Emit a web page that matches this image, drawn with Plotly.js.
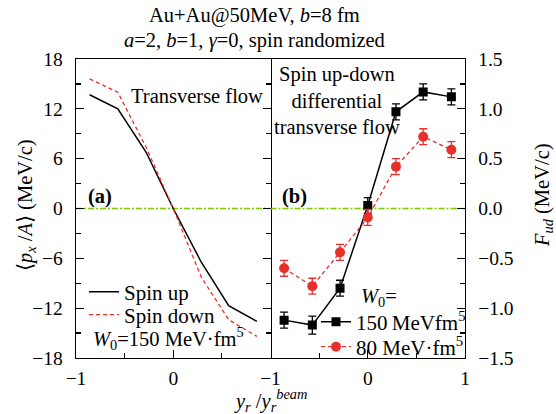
<!DOCTYPE html>
<html>
<head>
<meta charset="utf-8">
<script src="https://cdn.plot.ly/plotly-3.0.1.min.js"></script>
<style>html,body{margin:0;padding:0;background:#fff;}#chart{width:556px;height:414px;}</style>
</head>
<body>
<div id="chart"></div>
<script>
// Panel (a): transverse flow
const rapA = [-0.86, -0.57, -0.28, 0.0, 0.29, 0.57, 0.86];
const spinUp = [13.7, 12.0, 6.8, 0.0, -6.5, -11.7, -13.6];
const spinDown = [15.6, 14.0, 7.4, 0.0, -8.3, -13.4, -15.4];

// Panel (b): spin up-down differential transverse flow
const rapB = [-0.86, -0.57, -0.285, 0.0, 0.29, 0.57, 0.86];
const fud150 = [-1.12, -1.17, -0.80, 0.03, 0.97, 1.17, 1.12];
const err150 = [0.08, 0.09, 0.08, 0.08, 0.08, 0.08, 0.08];
const fud80 = [-0.60, -0.78, -0.44, -0.09, 0.42, 0.72, 0.59];
const err80 = [0.08, 0.08, 0.08, 0.08, 0.08, 0.08, 0.08];

const xTickVals = [-1, 0, 1];
const xTickTextA = ['\u22121', '0', ''];
const xTickTextB = ['\u22121', '0', '1'];

const FONT = 'Liberation Serif, Times New Roman, serif';
const RED = '#E8302A';
const GREEN = '#7CCB00';
const FS = 20.5;

// plot-area pixel helpers for placing text (plot area: x 76..465, y 59..358)
const px = v => (v - 76) / 389;
const py = v => (358 - v) / 299;

const traces = [
  {x: [-1, 1], y: [0, 0], xaxis: 'x', yaxis: 'y', mode: 'lines', showlegend: false, hoverinfo: 'skip',
   line: {color: GREEN, width: 1.3, dash: '6px,2px,2px,2px'}},
  {x: [-1, 1], y: [0, 0], xaxis: 'x2', yaxis: 'y2', mode: 'lines', showlegend: false, hoverinfo: 'skip',
   line: {color: GREEN, width: 1.3, dash: '6px,2px,2px,2px'}},
  {x: rapA, y: spinUp, xaxis: 'x', yaxis: 'y', mode: 'lines', name: 'Spin up', legend: 'legend',
   line: {color: '#000', width: 1.5}},
  {x: rapA, y: spinDown, xaxis: 'x', yaxis: 'y', mode: 'lines', name: 'Spin down', legend: 'legend2',
   line: {color: RED, width: 1.3, dash: '4px,3px'}},
  {x: rapB, y: fud150, xaxis: 'x2', yaxis: 'y2', mode: 'lines+markers', name: '150\u2009MeVfm<sup>5</sup>', legend: 'legend3',
   line: {color: '#000', width: 1.5}, marker: {symbol: 'square', size: 9, color: '#000'},
   error_y: {type: 'data', array: err150, visible: true, color: '#000', thickness: 1.3, width: 4}},
  {x: rapB, y: fud80, xaxis: 'x2', yaxis: 'y2', mode: 'lines+markers', name: '80 MeV\u00b7fm<sup>5</sup>', legend: 'legend4',
   line: {color: RED, width: 1.3, dash: '4px,3px'}, marker: {symbol: 'circle', size: 10, color: RED},
   error_y: {type: 'data', array: err80, visible: true, color: RED, thickness: 1.3, width: 4}}
];

const axisCommon = {
  showgrid: false, zeroline: false, showline: true, linecolor: '#000', linewidth: 1.3,
  ticks: 'inside', ticklen: 8, tickwidth: 1.2, tickcolor: '#000',
  tickfont: {family: FONT, size: 19.5, color: '#000'}
};

const legendFont = {family: FONT, size: 21, color: '#000'};
function mkLegend(x, y) {
  return {x: x, y: y, xanchor: 'left', yanchor: 'middle', bgcolor: 'rgba(0,0,0,0)', font: legendFont};
}
function ann(text, x, y, extra) {
  return Object.assign({text: text, xref: 'paper', yref: 'paper', x: px(x), y: py(y),
    xanchor: 'center', yanchor: 'middle', showarrow: false, font: {family: FONT, size: FS, color: '#000'}}, extra || {});
}

const layout = {
  width: 556, height: 414,
  margin: {l: 76, r: 91, t: 59, b: 56},
  paper_bgcolor: '#fff', plot_bgcolor: '#fff',
  font: {family: FONT, size: 19, color: '#000'},
  xaxis: Object.assign({}, axisCommon, {domain: [0, 0.5], range: [-1, 1], tickmode: 'array', tickvals: xTickVals,
    ticktext: xTickTextA, mirror: true, anchor: 'y', ticklabelstandoff: 2,
    minor: {tickmode: 'array', tickvals: [-0.5, 0.5], ticks: 'inside', ticklen: 5, tickcolor: '#000'}}),
  xaxis2: Object.assign({}, axisCommon, {domain: [0.5, 1], range: [-1, 1], tickmode: 'array', tickvals: xTickVals,
    ticktext: xTickTextB, mirror: true, anchor: 'y2', ticklabelstandoff: 2,
    minor: {tickmode: 'array', tickvals: [-0.5, 0.5], ticks: 'inside', ticklen: 5, tickcolor: '#000'}}),
  yaxis: Object.assign({}, axisCommon, {range: [-18, 18], dtick: 6, tick0: 0, mirror: 'ticks', anchor: 'x',
    ticklabelstandoff: 8,
    minor: {dtick: 3, ticks: 'inside', ticklen: 5, tickcolor: '#000'}}),
  yaxis2: Object.assign({}, axisCommon, {range: [-1.5, 1.5], dtick: 0.5, tick0: 0, tickformat: '.1f', side: 'right',
    anchor: 'x2', mirror: false, ticklabelstandoff: 8,
    minor: {dtick: 0.25, ticks: 'inside', ticklen: 5, tickcolor: '#000'}}),
  legend: mkLegend(px(84), py(292)),
  legend2: mkLegend(px(84), py(315)),
  legend3: mkLegend(px(316), py(322)),
  legend4: mkLegend(px(316), py(347)),
  annotations: [
    ann('Au+Au@50MeV, <i>b</i>=8 fm', 254, 15),
    ann('<i>a</i>=2, <i>b</i>=1, <i>γ</i>=0, spin randomized', 254, 40),
    ann('<b>(a)</b>', 100, 196),
    ann('<b>(b)</b>', 294, 196),
    ann('Transverse flow', 197, 96),
    ann('Spin up-down<br>differential<br>transverse flow', 337, 100, {align: 'center'}),
    ann('<i>W</i><sub>0</sub>=150 MeV\u00b7fm<sup>5</sup>', 168, 338),
    ann('<i>W</i><sub>0</sub>=', 379, 297),
    ann('<i>y<sub>r</sub></i> /<i>y<sub>r</sub><sup>beam</sup></i>', 270, 401),
    ann('⟨<i>p<sub>x</sub></i> /<i>A</i>⟩ (MeV/c)', 26, 205, {textangle: -90}),
    ann('<i>F<sub>ud</sub></i> (MeV/c)', 543, 195, {textangle: -90})
  ],
  showlegend: true
};

Plotly.newPlot('chart', traces, layout, {staticPlot: true, displayModeBar: false});
</script>
</body>
</html>
